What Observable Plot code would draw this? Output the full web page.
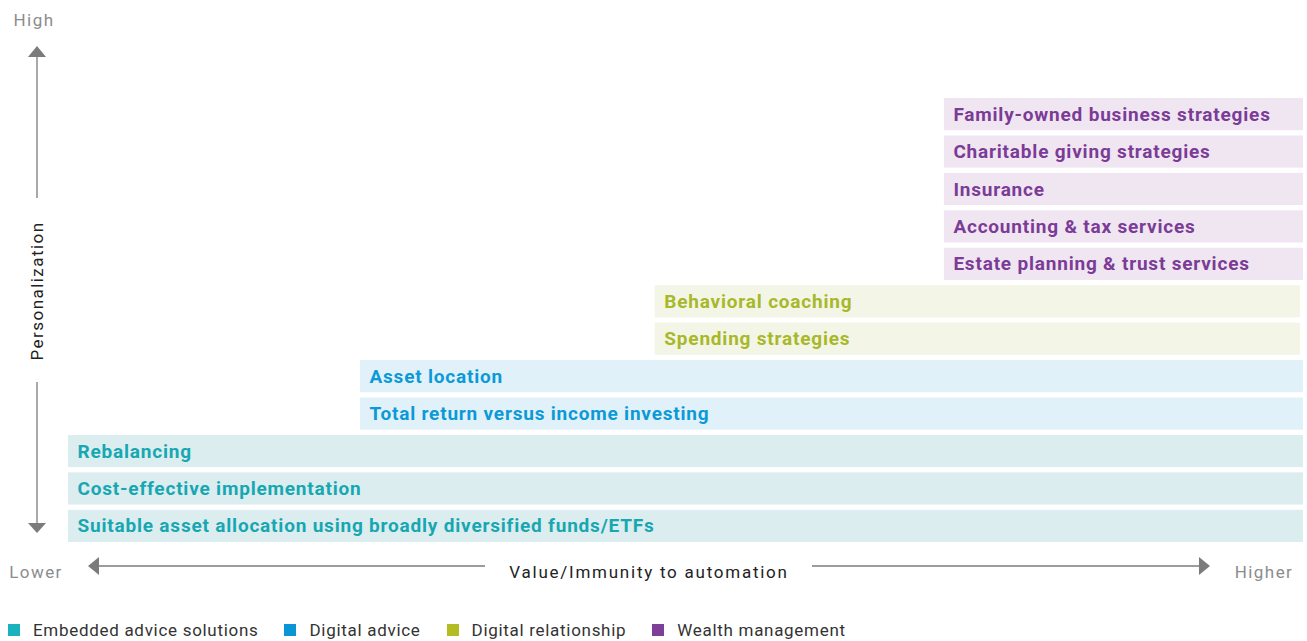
<!DOCTYPE html>
<html>
<head>
<meta charset="utf-8">
<script src="https://cdn.jsdelivr.net/npm/d3@7"></script>
<script src="https://cdn.jsdelivr.net/npm/@observablehq/plot@0.6"></script>
<style>
  html, body { margin: 0; padding: 0; background: #fff; }
  #chart { width: 1307px; }
  .lg-swatches-wrap { margin: 0 0 0 8px !important; min-height: 24px !important; height: 24px; }
  .lg-swatch { margin-right: 26px !important; }
  .lg-swatch > svg { margin-right: 13px !important; }
</style>
</head>
<body>
<div id="chart"></div>
<script>
// ---- data ----
const services = [
  "Family-owned business strategies",
  "Charitable giving strategies",
  "Insurance",
  "Accounting & tax services",
  "Estate planning & trust services",
  "Behavioral coaching",
  "Spending strategies",
  "Asset location",
  "Total return versus income investing",
  "Rebalancing",
  "Cost-effective implementation",
  "Suitable asset allocation using broadly diversified funds/ETFs"
];
const serviceGroups = [
  "Wealth management", "Wealth management", "Wealth management", "Wealth management", "Wealth management",
  "Digital relationship", "Digital relationship",
  "Digital advice", "Digital advice",
  "Embedded advice solutions", "Embedded advice solutions", "Embedded advice solutions"
];
const startLevels = [3, 3, 3, 3, 3, 2.01, 2.01, 1, 1, 0, 0, 0];
const endLevels = [4.23, 4.23, 4.23, 4.23, 4.23, 4.22, 4.22, 4.23, 4.23, 4.23, 4.23, 4.23];

const groupNames = ["Embedded advice solutions", "Digital advice", "Digital relationship", "Wealth management"];
const groupColors = ["#1ab2bc", "#0a96d6", "#b3bd22", "#7d3f98"];
const groupFills = ["#dcedef", "#e1f1f9", "#f3f6e6", "#efe6f2"];
const groupTextColors = ["#17a7b2", "#0b9ad7", "#a8b82a", "#7b3b96"];

const xAxisLabels = ["Lower", "Value/Immunity to automation", "Higher"];
const yAxisLabels = ["High", "Personalization"];

// ---- build ----
const rows = services.map((label, i) => ({
  label, group: serviceGroups[i], start: startLevels[i], end: endLevels[i]
}));

const FONT = "Roboto, 'Open Sans', sans-serif";

const marks = [];
groupNames.forEach((g, i) => {
  const sub = rows.filter(d => d.group === g);
  marks.push(Plot.barX(sub, {x1: "start", x2: "end", y: "label", fill: groupFills[i]}));
});
groupNames.forEach((g, i) => {
  const sub = rows.filter(d => d.group === g);
  marks.push(Plot.text(sub, {
    x: "start", y: "label", text: "label", textAnchor: "start", dx: 9,
    fill: groupTextColors[i], fontWeight: 700, fontSize: 19
  }));
});

const W = 1307, H = 618;
const plot = Plot.plot({
  width: W, height: H,
  marginLeft: 68, marginRight: 4, marginTop: 98, marginBottom: H - 542,
  style: {fontFamily: FONT, background: "#fff", overflow: "visible"},
  x: {domain: [0, 4.23], axis: null},
  y: {domain: services, axis: null, paddingInner: 0.14, paddingOuter: 0, round: false},
  marks
});
d3.select(plot).selectAll("text").attr("letter-spacing", "0.8px");

// axis decorations (arrows + labels)
const svg = d3.select(plot);
const gray = "#7b7b7b";
const lightGray = "#8c8c8c";
const deco = svg.append("g").attr("font-size", 17).attr("letter-spacing", "1.45px");

// vertical axis
deco.append("line").attr("x1", 37).attr("x2", 37).attr("y1", 56).attr("y2", 198)
  .attr("stroke", gray).attr("stroke-width", 1.3);
deco.append("line").attr("x1", 37).attr("x2", 37).attr("y1", 382).attr("y2", 524)
  .attr("stroke", gray).attr("stroke-width", 1.3);
deco.append("path").attr("d", "M37,46L28,57L46,57Z").attr("fill", gray);
deco.append("path").attr("d", "M28,523L46,523L37,533Z").attr("fill", gray);
deco.append("text").attr("x", 34).attr("y", 20).attr("text-anchor", "middle").attr("dy", "0.35em")
  .attr("fill", lightGray).text(yAxisLabels[0]);
deco.append("text").attr("transform", "translate(37,291) rotate(-90)").attr("text-anchor", "middle").attr("dy", "0.35em")
  .attr("fill", "#222").text(yAxisLabels[1]);

// horizontal axis
deco.append("line").attr("x1", 99).attr("x2", 485).attr("y1", 566).attr("y2", 566)
  .attr("stroke", gray).attr("stroke-width", 1.3);
deco.append("line").attr("x1", 812).attr("x2", 1199).attr("y1", 566).attr("y2", 566)
  .attr("stroke", gray).attr("stroke-width", 1.3);
deco.append("path").attr("d", "M88,566L99,557L99,575Z").attr("fill", gray);
deco.append("path").attr("d", "M1199,557L1199,575L1210,566Z").attr("fill", gray);
deco.append("text").attr("x", 36).attr("y", 572).attr("text-anchor", "middle").attr("dy", "0.35em")
  .attr("fill", lightGray).text(xAxisLabels[0]);
deco.append("text").attr("x", 649).attr("y", 572).attr("text-anchor", "middle").attr("dy", "0.35em")
  .attr("fill", "#222").attr("letter-spacing", "1.75px").text(xAxisLabels[1]);
deco.append("text").attr("x", 1264).attr("y", 572).attr("text-anchor", "middle").attr("dy", "0.35em")
  .attr("fill", lightGray).text(xAxisLabels[2]);

document.getElementById("chart").appendChild(plot);

const legend = Plot.legend({
  color: {type: "ordinal", domain: groupNames, range: groupColors},
  legend: "swatches",
  swatchSize: 12,
  className: "lg",
  style: {fontFamily: FONT, fontSize: "17px", color: "#333", letterSpacing: "0.7px"}
});
document.getElementById("chart").appendChild(legend);
</script>
</body>
</html>
